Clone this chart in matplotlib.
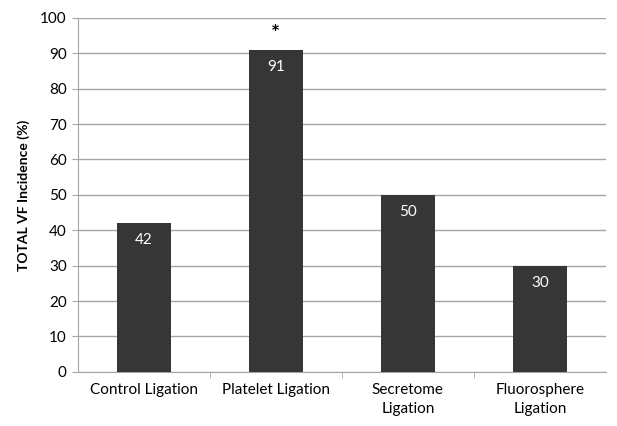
import numpy as np
import matplotlib.pyplot as plt

# Chart data
categories = ['Control Ligation', 'Platelet Ligation', 'Secretome\nLigation', 'Fluorosphere\nLigation']
values = [42, 91, 50, 30]
bar_labels = ['42', '91', '50', '30']
significant = [False, True, False, False]

plt.rcParams['font.family'] = ['Lato', 'DejaVu Sans']

fig = plt.figure(figsize=(6.17, 4.26), dpi=100)
ax = fig.add_axes([0.126, 0.127, 0.856, 0.831])

x = np.arange(len(categories))
bars = ax.bar(x, values, width=0.41, color='#363636', zorder=3)

# value labels inside the bars, asterisk for significance
for xi, v, lab, sig in zip(x, values, bar_labels, significant):
    ax.text(xi, v - 2.8, lab, ha='center', va='top', color='white', fontsize=11, zorder=4)
    if sig:
        ax.text(xi, v + 1.5, '*', ha='center', va='bottom', color='black', fontsize=15, fontweight='bold')

ax.set_xlim(-0.5, len(categories) - 0.5)
ax.set_ylim(0, 100)
ax.set_yticks(np.arange(0, 101, 10))
ax.yaxis.grid(True, color='#a6a6a6', linewidth=1, zorder=0)
ax.set_axisbelow(True)

# category labels centred, tick marks at category boundaries
ax.set_xticks(x)
ax.set_xticklabels(categories, fontsize=11, linespacing=1.45)
ax.tick_params(axis='x', length=0, pad=8)
ax.set_xticks(np.arange(0.5, len(categories) - 0.5), minor=True)
ax.tick_params(axis='x', which='minor', length=4, color='#a6a6a6')
ax.tick_params(axis='y', length=4, color='#a6a6a6', labelsize=11, pad=4)

for side in ['top', 'right']:
    ax.spines[side].set_visible(False)
for side in ['left', 'bottom']:
    ax.spines[side].set_color('#a6a6a6')

ax.set_ylabel('TOTAL VF Incidence (%)', fontsize=10, fontweight='bold', labelpad=7)

fig.savefig('out.png', dpi=100)
